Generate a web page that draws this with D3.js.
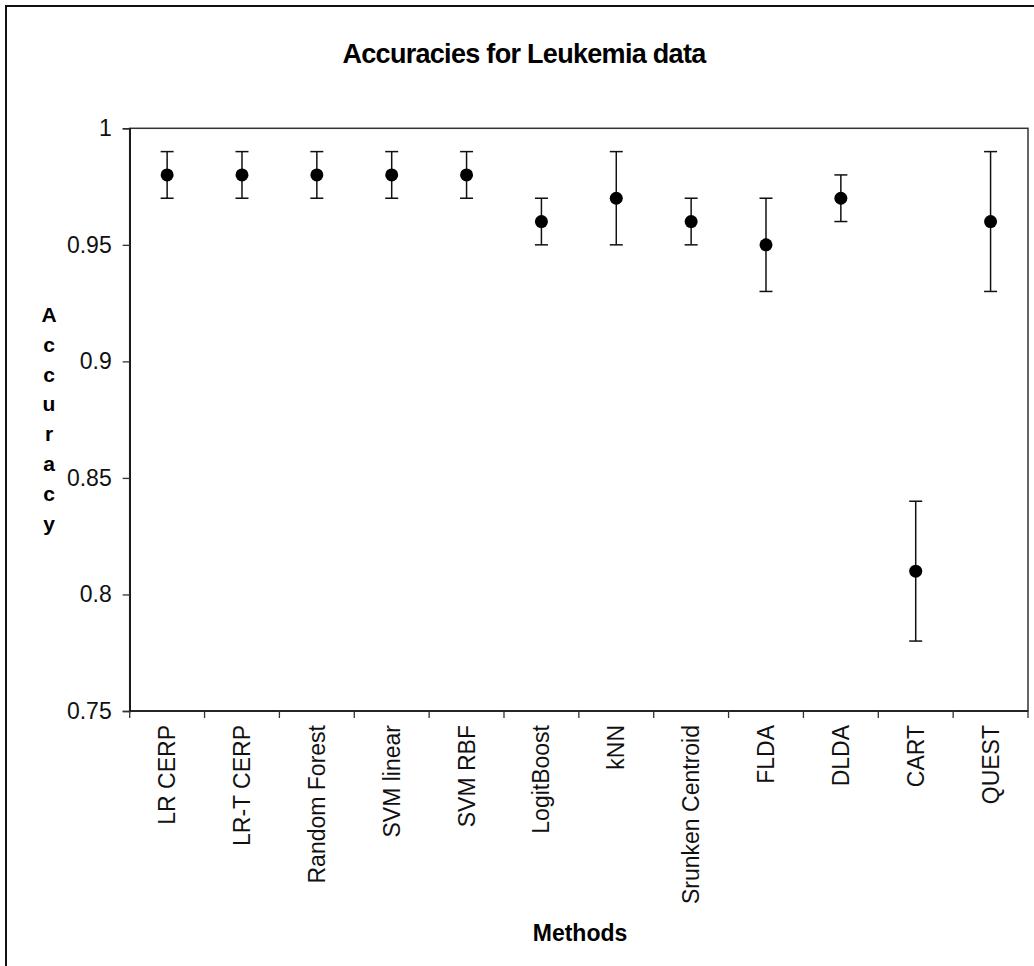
<!DOCTYPE html>
<html>
<head>
<meta charset="utf-8">
<script src="https://cdn.jsdelivr.net/npm/d3@7"></script>
<style>
  html, body { margin: 0; padding: 0; background: #fff; }
  svg { display: block; font-family: "Liberation Sans", Arial, sans-serif; }
</style>
</head>
<body>
<svg id="chart" width="1034" height="966"></svg>
<script>
// Methods compared on the Leukemia data set
const methods = ["LR CERP", "LR-T CERP", "Random Forest", "SVM linear", "SVM RBF",
  "LogitBoost", "kNN", "Srunken Centroid", "FLDA", "DLDA", "CART", "QUEST"];
// Mean accuracy and the lower / upper ends of each error bar
const accuracy = [0.98, 0.98, 0.98, 0.98, 0.98, 0.96, 0.97, 0.96, 0.95, 0.97, 0.81, 0.96];
const lower    = [0.97, 0.97, 0.97, 0.97, 0.97, 0.95, 0.95, 0.95, 0.93, 0.96, 0.78, 0.93];
const upper    = [0.99, 0.99, 0.99, 0.99, 0.99, 0.97, 0.99, 0.97, 0.97, 0.98, 0.84, 0.99];
const yTicks   = [0.75, 0.8, 0.85, 0.9, 0.95, 1];
const yTickLabels = ["0.75", "0.8", "0.85", "0.9", "0.95", "1"];

const svg = d3.select("#chart");
const plot = { left: 129.7, right: 1028, top: 128.3, bottom: 711 };

const x = d3.scaleBand().domain(methods).range([plot.left, plot.right]).padding(0);
const y = d3.scaleLinear().domain([0.75, 1]).range([plot.bottom, plot.top]);

// outer chart frame
svg.append("rect")
  .attr("x", 6).attr("y", 6).attr("width", 1100).attr("height", 1100)
  .attr("fill", "none").attr("stroke", "#111").attr("stroke-width", 2);

// title
svg.append("text")
  .attr("x", 524).attr("y", 63)
  .attr("text-anchor", "middle")
  .attr("font-weight", "bold").attr("font-size", 27).attr("letter-spacing", -0.7)
  .text("Accuracies for Leukemia data");

// plot box
svg.append("rect")
  .attr("x", plot.left).attr("y", plot.top)
  .attr("width", plot.right - plot.left).attr("height", plot.bottom - plot.top)
  .attr("fill", "none").attr("stroke", "#333").attr("stroke-width", 1.5);

// y axis
const yAxis = d3.axisLeft(y).tickValues(yTicks)
  .tickFormat((d, i) => yTickLabels[i]).tickSize(7).tickPadding(11);
const gy = svg.append("g").attr("transform", `translate(${plot.left},0)`).call(yAxis);
gy.select(".domain").attr("stroke", "#111").attr("stroke-width", 1.5);
gy.selectAll(".tick line").attr("stroke", "#333").attr("stroke-width", 1.3);
gy.selectAll(".tick text").attr("font-size", 23).attr("fill", "#111")
  .attr("font-family", "Liberation Sans, Arial, sans-serif");

// x axis: ticks at category boundaries
const boundaries = methods.map(m => x(m)).concat([x.range()[1]]);
svg.append("line")
  .attr("x1", plot.left).attr("x2", plot.right)
  .attr("y1", plot.bottom).attr("y2", plot.bottom)
  .attr("stroke", "#111").attr("stroke-width", 1.5);
svg.append("g").selectAll("line").data(boundaries).join("line")
  .attr("x1", d => d).attr("x2", d => d)
  .attr("y1", plot.bottom).attr("y2", plot.bottom + 7)
  .attr("stroke", "#333").attr("stroke-width", 1.3);

// rotated category labels
svg.append("g").selectAll("text").data(methods).join("text")
  .attr("transform", d => `translate(${x(d) + x.bandwidth() / 2 + 8},725) rotate(-90)`)
  .attr("text-anchor", "end")
  .attr("font-size", 23).attr("fill", "#111")
  .text(d => d);

// error bars
const bars = svg.append("g");
const capHalf = 6.5;
methods.forEach((m, i) => {
  const cx = x(m) + x.bandwidth() / 2;
  bars.append("line").attr("x1", cx).attr("x2", cx)
    .attr("y1", y(lower[i])).attr("y2", y(upper[i]))
    .attr("stroke", "#111").attr("stroke-width", 1.5);
  [lower[i], upper[i]].forEach(v => {
    bars.append("line").attr("x1", cx - capHalf).attr("x2", cx + capHalf)
      .attr("y1", y(v)).attr("y2", y(v))
      .attr("stroke", "#111").attr("stroke-width", 1.5);
  });
});

// mean points
svg.append("g").selectAll("circle").data(methods).join("circle")
  .attr("cx", d => x(d) + x.bandwidth() / 2)
  .attr("cy", (d, i) => y(accuracy[i]))
  .attr("r", 6.5).attr("fill", "#000");

// axis titles
const yLetters = "Accuracy".split("");
svg.append("g").selectAll("text").data(yLetters).join("text")
  .attr("x", 49).attr("y", (d, i) => 322 + i * 29.8)
  .attr("text-anchor", "middle")
  .attr("font-weight", "bold").attr("font-size", 21)
  .text(d => d);

svg.append("text")
  .attr("x", 580).attr("y", 941)
  .attr("text-anchor", "middle")
  .attr("font-weight", "bold").attr("font-size", 23)
  .text("Methods");
</script>
</body>
</html>
